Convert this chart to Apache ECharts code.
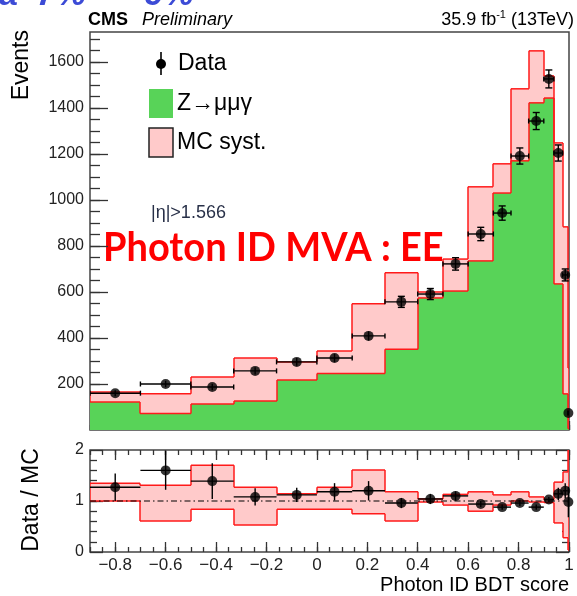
<!DOCTYPE html>
<html>
<head>
<meta charset="utf-8">
<script src="https://cdn.jsdelivr.net/npm/echarts@6/dist/echarts.min.js"></script>
<style>
  html, body { margin: 0; padding: 0; background: #fff; }
  #c { width: 577px; height: 596px; }
</style>
</head>
<body>
<div id="c"></div>
<script>
// Variable-width bins of the photon ID BDT score
const binEdges = [-0.9, -0.7, -0.5, -0.33, -0.16, 0, 0.14, 0.27, 0.4, 0.5, 0.6, 0.7, 0.77, 0.84, 0.9, 0.94, 0.975, 0.995, 1.0];

// Observed events and their statistical errors
const dataCounts = [160, 200, 187, 257, 296, 313, 409, 557, 591, 722, 852, 943, 1191, 1343, 1526, 1204, 674, 74];
const dataErr    = [13, 14, 14, 16, 17, 18, 20, 24, 24, 27, 29, 31, 35, 37, 39, 35, 26, 9];

// Z -> mu mu gamma simulation and its systematic envelope
const mcCounts = [122, 120, 135, 240, 260, 268, 341, 577, 580, 657, 900, 1072, 1230, 1526, 1490, 1056, 562, 75];
const systHi   = [165, 158, 230, 313, 296, 343, 549, 683, 600, 743, 1057, 1157, 1483, 1648, 1539, 1248, 883, 270];
const systLo   = [122, 72, 113, 126, 217, 246, 246, 351, 574, 604, 735, 1030, 1170, 1422, 1443, 635, 157, 5];

// Data / MC ratio panel
const ratioVals = [1.27, 1.6, 1.39, 1.08, 1.12, 1.18, 1.2, 0.96, 1.04, 1.1, 0.94, 0.88, 0.96, 0.88, 1.03, 1.14, 1.2, 0.98];
const ratioErr  = [0.27, 0.38, 0.35, 0.17, 0.14, 0.17, 0.19, 0.1, 0.1, 0.09, 0.06, 0.05, 0.06, 0.05, 0.05, 0.12, 0.15, 0.3];
const ratioHi   = [1.35, 1.31, 1.7, 1.27, 1.14, 1.27, 1.61, 1.18, 1.04, 1.13, 1.18, 1.12, 1.18, 1.08, 1.03, 1.37, 1.57, 2.2];
const ratioLo   = [1.0, 0.61, 0.84, 0.53, 0.84, 0.84, 0.75, 0.61, 0.98, 0.92, 0.8, 0.92, 1.0, 0.98, 0.97, 0.57, 0.28, 0.04];

// Axis ticks and labels
const xMajorTicks  = [-0.8, -0.6, -0.4, -0.2, 0, 0.2, 0.4, 0.6, 0.8, 1.0];
const xTickLabels  = ['\u22120.8', '\u22120.6', '\u22120.4', '\u22120.2', '0', '0.2', '0.4', '0.6', '0.8', '1'];
const yMajorTicks  = [200, 400, 600, 800, 1000, 1200, 1400, 1600];
const yTickLabels  = ['200', '400', '600', '800', '1000', '1200', '1400', '1600'];
const rMajorTicks  = [0, 1, 2];
const rTickLabels  = ['0', '1', '2'];

const xMinorTicks = [];
for (let k = -18; k <= 20; k++) xMinorTicks.push(+(k * 0.05).toFixed(2));
const yMinorTicks = [];
for (let v = 50; v <= 1700; v += 50) yMinorTicks.push(v);
const rMinorTicks = [];
for (let k = 1; k < 10; k++) rMinorTicks.push(+(k * 0.2).toFixed(1));

const FONT = '"Liberation Sans", Arial, Helvetica, sans-serif';
const GREEN = '#58d358';
const PINK = '#ffcaca';
const RED = '#ff1a1a';

const histData  = mcCounts.map((v, i) => [binEdges[i], binEdges[i + 1], v]);
const bandData  = systLo.map((v, i) => [binEdges[i], binEdges[i + 1], v, systHi[i]]);
const pointData = dataCounts.map((v, i) => [(binEdges[i] + binEdges[i + 1]) / 2, v, binEdges[i], binEdges[i + 1], dataErr[i]]);
const rBandData = ratioLo.map((v, i) => [binEdges[i], binEdges[i + 1], v, ratioHi[i]]);
const rPointData = ratioVals.map((v, i) => [(binEdges[i] + binEdges[i + 1]) / 2, v, binEdges[i], binEdges[i + 1], ratioErr[i]]);

function labelOf(values, labels) {
  return v => {
    for (let i = 0; i < values.length; i++) if (Math.abs(values[i] - v) < 1e-6) return labels[i];
    return '';
  };
}

// Filled histogram (bins drawn from 0 up to the content); x snapped to whole pixels
function histItem(params, api) {
  const a = api.coord([api.value(0), api.value(2)]);
  const b = api.coord([api.value(1), 0]);
  const x0 = Math.round(a[0]), x1 = Math.round(b[0]);
  return { type: 'rect', shape: { x: x0, y: a[1], width: x1 - x0, height: b[1] - a[1] }, style: { fill: GREEN } };
}

// Envelope band drawn as stepped upper/lower outlines with fill between
function bandItem(lo, hi) {
  return function (params, api) {
    const i = params.dataIndex;
    const x0 = api.value(0), x1 = api.value(1), l = api.value(2), h = api.value(3);
    const tl = api.coord([x0, h]), br = api.coord([x1, l]);
    const px0 = Math.round(tl[0]), px1 = Math.round(br[0]);
    const st = { stroke: RED, lineWidth: 1.5 };
    const ch = [
      { type: 'rect', shape: { x: px0, y: tl[1], width: px1 - px0, height: br[1] - tl[1] }, style: { fill: PINK } },
      { type: 'line', shape: { x1: px0, y1: tl[1], x2: px1, y2: tl[1] }, style: st },
      { type: 'line', shape: { x1: px0, y1: br[1], x2: px1, y2: br[1] }, style: st }
    ];
    if (i > 0) {
      const ph = api.coord([x0, hi[i - 1]])[1], pl = api.coord([x0, lo[i - 1]])[1];
      ch.push({ type: 'line', shape: { x1: px0, y1: ph, x2: px0, y2: tl[1] }, style: st });
      ch.push({ type: 'line', shape: { x1: px0, y1: pl, x2: px0, y2: br[1] }, style: st });
    } else {
      ch.push({ type: 'line', shape: { x1: px0, y1: tl[1], x2: px0, y2: br[1] }, style: st });
    }
    if (i === lo.length - 1) {
      ch.push({ type: 'line', shape: { x1: px1, y1: tl[1], x2: px1, y2: br[1] }, style: st });
    }
    return { type: 'group', children: ch };
  };
}

// Error bars: full bin width horizontally, +-err vertically
function errItem(caps) {
  return function (params, api) {
    const xc = api.value(0), y = api.value(1), xl = api.value(2), xr = api.value(3), e = api.value(4);
    const c = api.coord([xc, y]), l = api.coord([xl, y]), r = api.coord([xr, y]);
    const t = api.coord([xc, y + e]), b = api.coord([xc, y - e]);
    const st = { stroke: '#000', lineWidth: 1.4 };
    const ch = [
      { type: 'line', shape: { x1: l[0], y1: c[1], x2: r[0], y2: c[1] }, style: st },
      { type: 'line', shape: { x1: c[0], y1: t[1], x2: c[0], y2: b[1] }, style: st }
    ];
    if (caps) {
      ch.push({ type: 'line', shape: { x1: l[0], y1: c[1] - 2.5, x2: l[0], y2: c[1] + 2.5 }, style: st });
      ch.push({ type: 'line', shape: { x1: r[0], y1: c[1] - 2.5, x2: r[0], y2: c[1] + 2.5 }, style: st });
      if (c[1] - t[1] > 5) {
        ch.push({ type: 'line', shape: { x1: c[0] - 3.5, y1: t[1], x2: c[0] + 3.5, y2: t[1] }, style: st });
        ch.push({ type: 'line', shape: { x1: c[0] - 3.5, y1: b[1], x2: c[0] + 3.5, y2: b[1] }, style: st });
      }
    }
    return { type: 'group', children: ch };
  };
}

const noLine = { show: false, onZero: false };
const noSplit = { show: false };
const tickStyle = { color: '#333', width: 1.3 };

function xAx(grid, pos, ticks, len, labels) {
  return {
    type: 'value', gridIndex: grid, position: pos, min: -0.9, max: 1.0,
    axisLine: noLine, splitLine: noSplit,
    axisTick: { show: true, inside: true, length: len, customValues: ticks, lineStyle: tickStyle },
    axisLabel: labels ? {
      show: true, customValues: xMajorTicks, formatter: labelOf(xMajorTicks, xTickLabels),
      color: '#222', fontFamily: FONT, fontSize: 17, margin: 5
    } : { show: false }
  };
}
function yAx(grid, pos, min, max, ticks, len, labelVals, labelTxt) {
  return {
    type: 'value', gridIndex: grid, position: pos, min: min, max: max,
    axisLine: noLine, splitLine: noSplit,
    axisTick: { show: true, inside: true, length: len, customValues: ticks, lineStyle: tickStyle },
    axisLabel: labelVals ? {
      show: true, customValues: labelVals, formatter: labelOf(labelVals, labelTxt),
      color: '#222', fontFamily: FONT, fontSize: 16, margin: 6
    } : { show: false }
  };
}

const option = {
  animation: false,
  backgroundColor: '#fff',
  grid: [
    { left: 90, top: 32, width: 479, height: 398, show: true, borderColor: '#444', borderWidth: 1.5, backgroundColor: 'transparent' },
    { left: 90, top: 450, width: 479, height: 102, show: true, borderColor: '#444', borderWidth: 1.5, backgroundColor: 'transparent' }
  ],
  xAxis: [
    xAx(0, 'bottom', xMajorTicks, 9, false),
    xAx(0, 'bottom', xMinorTicks, 5, false),
    xAx(1, 'bottom', xMajorTicks, 10, true),
    xAx(1, 'bottom', xMinorTicks, 5, false),
    xAx(1, 'top', xMajorTicks, 10, false),
    xAx(1, 'top', xMinorTicks, 5, false)
  ],
  yAxis: [
    yAx(0, 'left', 0, 1730, yMajorTicks, 18, yMajorTicks, yTickLabels),
    yAx(0, 'left', 0, 1730, yMinorTicks, 10, null),
    yAx(1, 'left', 0, 2, rMajorTicks, 13, rMajorTicks, rTickLabels),
    yAx(1, 'left', 0, 2, rMinorTicks, 7, null),
    yAx(1, 'right', 0, 2, rMajorTicks, 13, null),
    yAx(1, 'right', 0, 2, rMinorTicks, 7, null)
  ],
  series: [
    { name: 'Z\u2192\u03bc\u03bc\u03b3', type: 'custom', xAxisIndex: 0, yAxisIndex: 0, clip: true,
      renderItem: histItem, encode: { x: [0, 1], y: 2 }, data: histData, z: 1 },
    { name: 'MC syst.', type: 'custom', xAxisIndex: 0, yAxisIndex: 0, clip: true,
      renderItem: bandItem(systLo, systHi), encode: { x: [0, 1], y: [2, 3] }, data: bandData, z: 2 },
    { name: 'Data errors', type: 'custom', xAxisIndex: 0, yAxisIndex: 0, clip: true,
      renderItem: errItem(true), encode: { x: 0, y: 1 }, data: pointData, z: 3 },
    { name: 'Data', type: 'scatter', xAxisIndex: 0, yAxisIndex: 0, symbol: 'circle', symbolSize: 10,
      itemStyle: { color: '#000' }, data: pointData.map(p => [p[0], p[1]]), z: 4 },

    { name: 'Ratio syst.', type: 'custom', xAxisIndex: 2, yAxisIndex: 2, clip: true,
      renderItem: bandItem(ratioLo, ratioHi), encode: { x: [0, 1], y: [2, 3] }, data: rBandData, z: 2 },
    { name: 'Unity', type: 'line', xAxisIndex: 2, yAxisIndex: 2, symbol: 'none',
      lineStyle: { color: '#000', width: 1.2, type: [6, 3, 1.5, 3] }, data: [[-0.9, 1], [1.0, 1]], z: 3 },
    { name: 'Ratio errors', type: 'custom', xAxisIndex: 2, yAxisIndex: 2, clip: true,
      renderItem: errItem(false), encode: { x: 0, y: 1 }, data: rPointData, z: 4 },
    { name: 'Ratio', type: 'scatter', xAxisIndex: 2, yAxisIndex: 2, symbol: 'circle', symbolSize: 10,
      itemStyle: { color: '#000' }, data: rPointData.map(p => [p[0], p[1]]), z: 5 }
  ],
  graphic: [
    // slide title, mostly above the top edge of the page
    { type: 'text', x: -1, y: -4, style: { text: 'a  7%  -   9%', font: 'bold italic 34px ' + FONT, fill: '#3c4bd6', verticalAlign: 'middle' } },
    // header
    { type: 'text', left: 88, top: 11, style: { text: 'CMS', font: 'bold 18px ' + FONT, fill: '#000' } },
    { type: 'text', left: 142, top: 11, style: { text: 'Preliminary', font: 'italic 18px ' + FONT, fill: '#000' } },
    { type: 'text', x: 574, y: 9, style: {
        text: '{a|35.9 fb}{s|-1}{a| (13TeV)}', align: 'right', verticalAlign: 'top',
        rich: {
          a: { font: '18px ' + FONT, fill: '#000', lineHeight: 20, verticalAlign: 'bottom' },
          s: { font: '11px ' + FONT, fill: '#000', lineHeight: 13, verticalAlign: 'top' }
        } } },
    // axis titles
    { type: 'text', x: 22, y: 30, rotation: Math.PI / 2, style: { text: 'Events', font: '23px ' + FONT, fill: '#000', align: 'right', verticalAlign: 'middle' } },
    { type: 'text', x: 32, y: 500, rotation: Math.PI / 2, style: { text: 'Data / MC', font: '23px ' + FONT, fill: '#000', align: 'center', verticalAlign: 'middle' } },
    { type: 'text', x: 569, y: 585, style: { text: 'Photon ID BDT score', font: '20px ' + FONT, fill: '#000', align: 'right', verticalAlign: 'middle' } },
    // legend
    { type: 'line', shape: { x1: 161, y1: 52, x2: 161, y2: 75 }, style: { stroke: '#000', lineWidth: 1.6 } },
    { type: 'circle', shape: { cx: 161, cy: 64, r: 5 }, style: { fill: '#000' } },
    { type: 'text', x: 178, y: 64, style: { text: 'Data', font: '23px ' + FONT, fill: '#000', verticalAlign: 'middle' } },
    { type: 'rect', shape: { x: 149, y: 89, width: 24, height: 29 }, style: { fill: GREEN } },
    { type: 'text', x: 177, y: 104, style: { text: 'Z\u2192\u03bc\u03bc\u03b3', font: '23px ' + FONT, fill: '#000', verticalAlign: 'middle' } },
    { type: 'rect', shape: { x: 149, y: 128, width: 24, height: 29 }, style: { fill: PINK, stroke: '#222', lineWidth: 1.5 } },
    { type: 'text', x: 177, y: 143, style: { text: 'MC syst.', font: '23px ' + FONT, fill: '#000', verticalAlign: 'middle' } },
    // annotations
    { type: 'text', x: 151, y: 213, style: { text: '|\u03b7|>1.566', font: '18px ' + FONT, fill: '#283048', verticalAlign: 'middle' } },
    { type: 'text', x: 103, y: 248, scaleX: 0.95, style: { text: 'Photon ID MVA : EE', font: 'bold 40px Lato, "Open Sans", sans-serif', fill: '#ff0000', verticalAlign: 'middle' } }
  ]
};

const chart = echarts.init(document.getElementById('c'), null, { renderer: 'canvas' });
chart.setOption(option);
</script>
</body>
</html>
